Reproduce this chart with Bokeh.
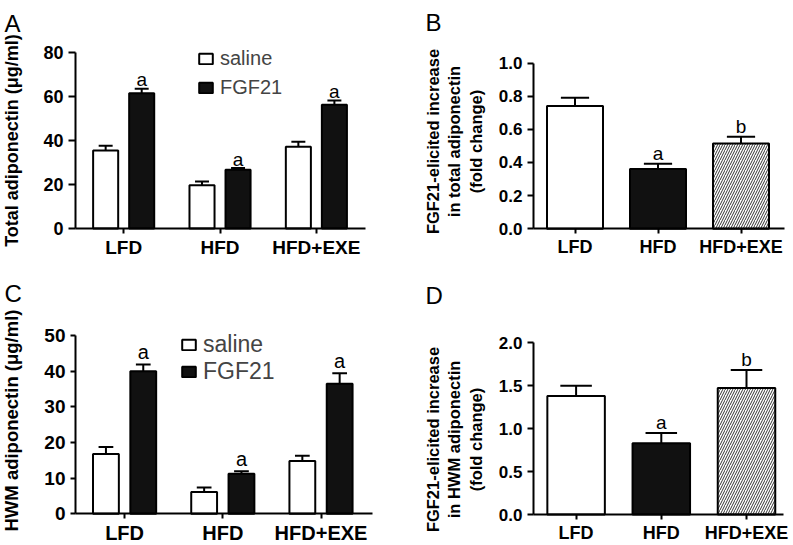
import math
from bokeh.plotting import figure
from bokeh.models import (Range1d, FixedTicker, Legend, LegendItem, Label,
                          NumeralTickFormatter)
from bokeh.layouts import column, row
from bokeh.embed import file_html
from bokeh.resources import INLINE
from bokeh.core.properties import value

FONT = "Liberation Sans"

categories = ["LFD", "HFD", "HFD+EXE"]

# Panel A: total adiponectin (ug/ml)
total_saline = [35.5, 19.7, 37.2]
total_saline_sem = [2.1, 1.7, 2.2]
total_fgf21 = [61.5, 26.7, 56.3]
total_fgf21_sem = [2.0, 0.8, 1.9]
total_sig = ["a", "a", "a"]
ticks_A = [0, 20, 40, 60, 80]

# Panel B: FGF21-elicited increase in total adiponectin (fold change)
total_fold = [0.74, 0.36, 0.515]
total_fold_sem = [0.05, 0.033, 0.04]
total_fold_sig = ["", "a", "b"]
ticks_B = [0.0, 0.2, 0.4, 0.6, 0.8, 1.0]

# Panel C: HMW adiponectin (ug/ml)
hmw_saline = [16.8, 6.1, 14.8]
hmw_saline_sem = [1.9, 1.3, 1.5]
hmw_fgf21 = [40.0, 11.2, 36.5]
hmw_fgf21_sem = [1.9, 0.7, 2.9]
hmw_sig = ["a", "a", "a"]
ticks_C = [0, 10, 20, 30, 40, 50]

# Panel D: FGF21-elicited increase in HMW adiponectin (fold change)
hmw_fold = [1.38, 0.83, 1.475]
hmw_fold_sem = [0.12, 0.12, 0.21]
hmw_fold_sig = ["", "a", "b"]
ticks_D = [0.0, 0.5, 1.0, 1.5, 2.0]


def base_fig(w, h, ox, oy, sx, sy, xbound, yticks, tick_size, xlab_size,
             ytick_out, fmt=None):
    # the frame covers the whole canvas; axes sit at data (0, 0)
    p = figure(width=w, height=h, output_backend="svg", toolbar_location=None,
               x_range=Range1d(-ox / sx, (w - ox) / sx),
               y_range=Range1d(-(h - oy) / sy, oy / sy),
               min_border=0, min_border_left=0, min_border_right=0,
               min_border_top=0, min_border_bottom=0)
    p.outline_line_color = None
    p.xgrid.grid_line_color = None
    p.ygrid.grid_line_color = None
    p.background_fill_color = "white"
    p.border_fill_color = "white"
    centers = [i + 0.5 for i in range(len(categories))]
    p.xaxis.ticker = FixedTicker(ticks=centers)
    p.xaxis.major_label_overrides = {c: n for c, n in zip(centers, categories)}
    p.yaxis.ticker = FixedTicker(ticks=yticks)
    if fmt:
        p.yaxis.formatter = NumeralTickFormatter(format=fmt)
    for ax in (p.xaxis[0], p.yaxis[0]):
        ax.fixed_location = 0
        ax.axis_line_width = 2
        ax.axis_line_color = "black"
        ax.major_tick_line_width = 2
        ax.major_tick_line_color = "black"
        ax.major_tick_in = 0
        ax.minor_tick_line_color = None
        ax.major_label_text_font = FONT
        ax.major_label_text_font_style = "bold"
        ax.major_label_text_color = "black"
    p.xaxis.bounds = (0, xbound)
    p.yaxis.bounds = (0, yticks[-1])
    p.xaxis.major_tick_out = 5
    p.xaxis.major_label_standoff = 3
    p.xaxis.major_label_text_font_size = xlab_size
    p.yaxis.major_tick_out = ytick_out
    p.yaxis.major_label_standoff = 5
    p.yaxis.major_label_text_font_size = tick_size
    return p


def add_errors(p, xs, means, sems, cap):
    tops = [m + s for m, s in zip(means, sems)]
    p.segment(x0=xs, y0=means, x1=xs, y1=tops, line_color="black", line_width=2)
    p.segment(x0=[x - cap / 2 for x in xs], y0=tops,
              x1=[x + cap / 2 for x in xs], y1=tops,
              line_color="black", line_width=2)
    return tops


def add_sig(p, xs, tops, sig, size, off):
    p.text(x=xs, y=tops, text=sig, text_align="center",
           text_baseline="alphabetic", y_offset=off,
           text_font=value(FONT), text_font_size=size, text_color="black")


def add_label(p, x, y, text, size, style="bold", angle=0.0, align="center",
              baseline="middle"):
    p.add_layout(Label(x=x, y=y, x_units="screen", y_units="screen", text=text,
                       angle=angle, text_align=align, text_baseline=baseline,
                       text_font=FONT, text_font_size=size,
                       text_font_style=style, text_color="black",
                       text_line_height=1.2))


def grouped(p, saline, saline_sem, fgf, fgf_sem, sig, off, bw, cap,
            sig_size, sig_off, leg_loc, leg_size, leg_spacing):
    xs_s = [i + 0.5 - off for i in range(len(categories))]
    xs_f = [i + 0.5 + off for i in range(len(categories))]
    r1 = p.vbar(x=xs_s, top=saline, width=bw, bottom=0, fill_color="white",
                line_color="black", line_width=2)
    r2 = p.vbar(x=xs_f, top=fgf, width=bw, bottom=0, fill_color="#111111",
                line_color="black", line_width=2)
    add_errors(p, xs_s, saline, saline_sem, cap)
    tops = add_errors(p, xs_f, fgf, fgf_sem, cap)
    add_sig(p, xs_f, tops, sig, sig_size, sig_off)
    leg = Legend(items=[LegendItem(label="saline", renderers=[r1]),
                        LegendItem(label="FGF21", renderers=[r2])],
                 location=leg_loc, orientation="vertical",
                 glyph_width=17, glyph_height=13, label_standoff=6,
                 spacing=leg_spacing, padding=0, margin=0,
                 border_line_color=None, background_fill_alpha=0,
                 label_text_font=FONT, label_text_font_size=leg_size,
                 label_height=20)
    p.add_layout(leg)


def single(p, vals, sems, sig, bw, cap, sig_size, sig_off):
    xs = [i + 0.5 for i in range(len(categories))]
    p.vbar(x=xs[0:1], top=vals[0:1], width=bw, bottom=0, fill_color="white",
           line_color="black", line_width=2)
    p.vbar(x=xs[1:2], top=vals[1:2], width=bw, bottom=0, fill_color="#111111",
           line_color="black", line_width=2)
    p.vbar(x=xs[2:3], top=vals[2:3], width=bw, bottom=0, fill_color="white",
           hatch_pattern="/", hatch_color="#333333", hatch_weight=1,
           hatch_scale=5, line_color="black", line_width=2)
    tops = add_errors(p, xs, vals, sems, cap)
    add_sig(p, xs, tops, sig, sig_size, sig_off)


# ---- Panel A ----
pA = base_fig(400, 270, 75, 228, 96.35, 2.2, 3.01, ticks_A, "18px", "19px", 7)
grouped(pA, total_saline, total_saline_sem, total_fgf21, total_fgf21_sem,
        total_sig, 0.187, 0.26, 0.145, "19px", -9, (197, 171), "20px", 6)
add_label(pA, 11, 130, "Total adiponectin (μg/ml)", "18px", angle=math.pi / 2)
add_label(pA, 4, 247, "A", "24px", style="normal", align="left",
          baseline="alphabetic")

# ---- Panel B ----
pB = base_fig(392, 270, 133, 228.3, 83.0, 165.8, 3.02, ticks_B, "17px", "18px",
              6, fmt="0.0")
single(pB, total_fold, total_fold_sem, total_fold_sig, 0.675, 0.34, "19px", -10)
add_label(pB, 54, 129, "FGF21-elicited increase\nin total adiponectin\n(fold change)",
          "16.5px", angle=math.pi / 2)
add_label(pB, 25, 248, "B", "24px", style="normal", align="left",
          baseline="alphabetic")

# ---- Panel C ----
pC = base_fig(400, 274, 75, 243.3, 98.2, 3.566, 3.02, ticks_C, "19px", "20px", 5)
grouped(pC, hmw_saline, hmw_saline_sem, hmw_fgf21, hmw_fgf21_sem,
        hmw_sig, 0.19, 0.263, 0.15, "20px", -12, (180, 159), "23px", 0)
add_label(pC, 11, 124, "HWM adiponectin (μg/ml)", "18.5px", angle=math.pi / 2)
add_label(pC, 4, 251, "C", "24px", style="normal", align="left",
          baseline="alphabetic")

# ---- Panel D ----
pD = base_fig(392, 274, 133, 244, 85.2, 85.8, 2.93, ticks_D, "17px", "18px", 6,
              fmt="0.0")
single(pD, hmw_fold, hmw_fold_sem, hmw_fold_sig, 0.675, 0.37, "19px", -10)
add_label(pD, 54, 105, "FGF21-elicited increase\nin HWM adiponectin\n(fold change)",
          "16.5px", angle=math.pi / 2)
add_label(pD, 25, 249, "D", "24px", style="normal", align="left",
          baseline="alphabetic")

layout = column(row(pA, pB), row(pC, pD))
open("out.html", "w").write(file_html(layout, INLINE))
